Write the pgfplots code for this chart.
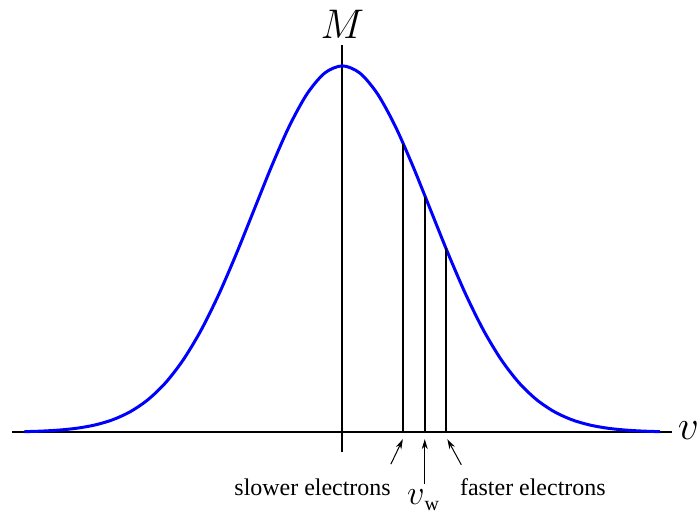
\documentclass[border=0pt]{standalone}
\usepackage{pgfplots}
\pgfplotsset{compat=1.18}
\usepackage{fontspec}
\setmainfont{Liberation Serif}
\usetikzlibrary{arrows.meta}

\begin{document}
\begin{tikzpicture}
\begin{axis}[
  scale only axis,
  width=330.5pt, height=204pt,
  xmin=-3.74, xmax=3.73, ymin=-0.0545, ymax=1.057,
  hide axis, clip=false,
]
% frame of the whole picture (keeps the page at the reference's size)
\path (axis cs:-3.8757,-0.2262) rectangle (axis cs:4.0226,1.1798);

% axes
\draw[black, line width=1pt] (axis cs:-3.74,0) -- (axis cs:3.73,0);
\draw[black, line width=1pt] (axis cs:0,-0.0545) -- (axis cs:0,1.057);

% Maxwellian distribution
\addplot[blue, line width=1.5pt, smooth] coordinates {
 (-3.6,0.0015) (-3.4,0.0031) (-3.2,0.0060) (-3.0,0.0111) (-2.8,0.0198)
 (-2.6,0.0340) (-2.4,0.0561) (-2.2,0.0889) (-2.0,0.1353) (-1.8,0.1979)
 (-1.6,0.2780) (-1.4,0.3753) (-1.2,0.4868) (-1.0,0.6065) (-0.8,0.7261)
 (-0.6,0.8353) (-0.4,0.9231) (-0.2,0.9802) (0,1) (0.2,0.9802)
 (0.4,0.9231) (0.6,0.8353) (0.8,0.7261) (1.0,0.6065) (1.2,0.4868)
 (1.4,0.3753) (1.6,0.2780) (1.8,0.1979) (2.0,0.1353) (2.2,0.0889)
 (2.4,0.0561) (2.6,0.0340) (2.8,0.0198) (3.0,0.0111) (3.2,0.0060)
 (3.4,0.0031) (3.6,0.0015)};

% wave speed and neighbours
\addplot[black, line width=1pt] coordinates {(0.69,0) (0.69,0.788)};
\addplot[black, line width=1pt] coordinates {(0.94,0) (0.94,0.643)};
\addplot[black, line width=1pt] coordinates {(1.175,0) (1.175,0.502)};

% arrows
\draw[-{Stealth[length=5pt,width=3pt]}, line width=0.5pt] (axis cs:0.550,-0.0872) -- (axis cs:0.686,-0.019);
\draw[-{Stealth[length=5pt,width=3pt]}, line width=0.5pt] (axis cs:0.934,-0.1417) -- (axis cs:0.934,-0.019);
\draw[-{Stealth[length=5pt,width=3pt]}, line width=0.5pt] (axis cs:1.348,-0.089) -- (axis cs:1.19,-0.019);

% labels
\begin{scope}[every node/.style={inner sep=0pt}]
\node[font=\fontsize{12}{14}\selectfont] at (axis cs:-0.336,-0.150) {slower electrons};
\node[font=\fontsize{12}{14}\selectfont] at (axis cs:2.158,-0.150) {faster electrons};
\node[font=\fontsize{19}{21}\selectfont] at (axis cs:0.915,-0.186) {$v$\raisebox{-3pt}{\fontsize{10}{12}\selectfont w}};
\node[font=\fontsize{20}{22}\selectfont] at (axis cs:0,1.112) {$M$};
\node[font=\fontsize{20}{22}\selectfont] at (axis cs:3.92,0.005) {$v$};
\end{scope}
\end{axis}
\end{tikzpicture}
\end{document}
